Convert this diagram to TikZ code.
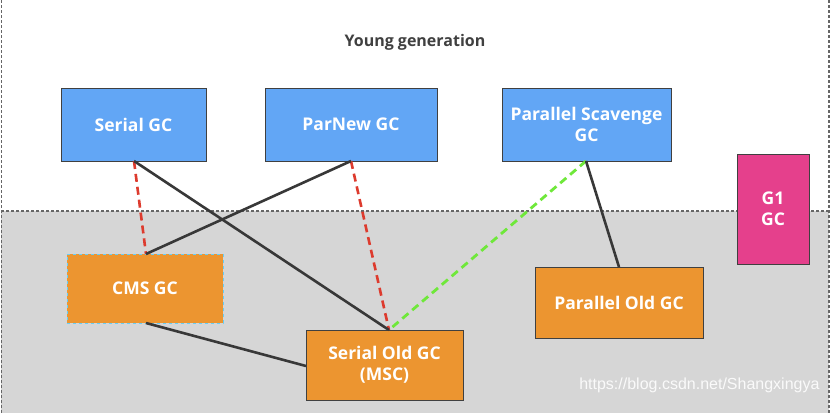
\documentclass[tikz,border=0pt]{standalone}
\usepackage{fontspec}
\setmainfont{Open Sans}
\newfontfamily\wmfont{Liberation Sans}
\begin{document}
\begin{tikzpicture}[x=1pt,y=-1pt,
  gcbox/.style={draw=black!75,line width=1pt,inner sep=0pt,font=\bfseries\fontsize{17.5}{21}\selectfont,text=white,align=center},
  bluebox/.style={gcbox,fill=blueF},
  orangebox/.style={gcbox,fill=orangeF},
  link/.style={line width=2.6pt,draw=black!78},
  redlink/.style={line width=2.6pt,draw=redL,dash pattern=on 8pt off 5pt},
  greenlink/.style={line width=2.8pt,draw=greenL,dash pattern=on 8pt off 5pt}]
\definecolor{blueF}{HTML}{62A6F5}
\definecolor{orangeF}{HTML}{EC9530}
\definecolor{pinkF}{HTML}{E5408C}
\definecolor{bgGray}{HTML}{D6D6D6}
\definecolor{redL}{HTML}{DD3B2E}
\definecolor{greenL}{HTML}{6FE83A}
\useasboundingbox (0,0) rectangle (832,413);
\fill[white] (0,0) rectangle (832,413);
\fill[bgGray] (1,211) rectangle (829,413);
\draw[black!60,line width=1.4pt,dash pattern=on 2.5pt off 2.5pt] (1,211) -- (829,211);
\draw[black!60,line width=1pt,dash pattern=on 2.5pt off 2.5pt] (1,0) -- (1,413);
\draw[black!60,line width=1.4pt,dash pattern=on 2.5pt off 2.5pt] (829,0) -- (829,413);
\node[font=\bfseries\fontsize{16}{19}\selectfont,text=black!75] (title) at (415,42) {Young generation};
\node[bluebox,minimum width=145pt,minimum height=73pt] (serial) at (133.5,124.5) {Serial GC};
\node[bluebox,minimum width=172pt,minimum height=73pt] (parnew) at (351,124.5) {ParNew GC};
\node[bluebox,minimum width=169pt,minimum height=73pt] (ps) at (586.5,124.5) {Parallel Scavenge\\GC};
\node[gcbox,fill=pinkF,minimum width=72pt,minimum height=110pt] (g1) at (773,209) {G1\\GC};
\node[gcbox,fill=orangeF,draw=cyan!60!white,dashed,line width=1pt,minimum width=156pt,minimum height=69pt] (cms) at (145,288.5) {CMS GC};
\node[orangebox,minimum width=168pt,minimum height=71pt] (pold) at (619,302.5) {Parallel Old GC};
\node[orangebox,minimum width=157pt,minimum height=70pt] (sold) at (384.5,365) {Serial Old GC\\(MSC)};
\coordinate (sb) at (134,161);
\coordinate (pnb) at (351,161);
\coordinate (psb) at (586,161);
\coordinate (cmst) at (146,254);
\coordinate (cmsb) at (146,323);
\coordinate (soldt) at (389,330);
\coordinate (soldl) at (306,366);
\coordinate (poldt) at (619,267);
\draw[redlink] (sb) -- (cmst);
\draw[redlink] (pnb) -- (soldt);
\draw[link] (sb) -- (soldt);
\draw[link] (pnb) -- (cmst);
\draw[greenlink] (psb) -- (soldt);
\draw[link] (psb) -- (poldt);
\draw[link] (cmsb) -- (soldl);
\node[anchor=east,font=\wmfont\fontsize{16}{18}\selectfont,text=white!96!gray] (wm) at (823,385) {https://blog.csdn.net/Shangxingya};
\end{tikzpicture}
\end{document}
